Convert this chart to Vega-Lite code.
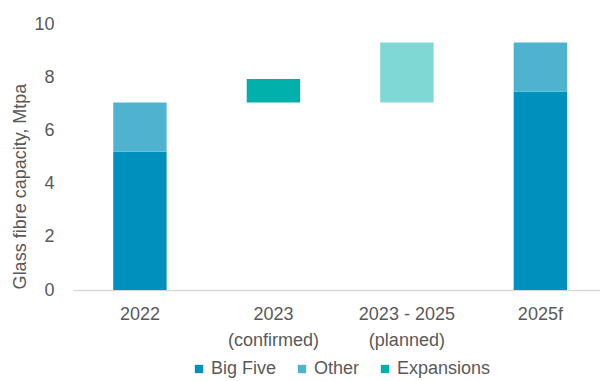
{
  "$schema": "https://vega.github.io/schema/vega-lite/v6.json",
  "autosize": "none",
  "width": 527,
  "height": 266,
  "padding": {"left": 73, "top": 24, "right": 0, "bottom": 91},
  "background": "white",
  "config": {"view": {"stroke": null}, "font": "Liberation Sans"},
  "data": {"values": [
    {"cat": "2022", "series": "Big Five", "y0": 0, "y1": 5.2},
    {"cat": "2022", "series": "Other", "y0": 5.2, "y1": 7.05},
    {"cat": "2023\n(confirmed)", "series": "Expansions", "y0": 7.05, "y1": 7.93},
    {"cat": "2023 - 2025\n(planned)", "series": "Planned", "y0": 7.05, "y1": 9.3},
    {"cat": "2025f", "series": "Big Five", "y0": 0, "y1": 7.45},
    {"cat": "2025f", "series": "Other", "y0": 7.45, "y1": 9.3}
  ]},
  "mark": {"type": "bar"},
  "encoding": {
    "x": {"field": "cat", "type": "nominal", "sort": null,
      "scale": {"paddingInner": 0.6, "paddingOuter": 0.274, "align": 0.55},
      "axis": {"title": null, "labelAngle": 0, "ticks": false, "domainColor": "#d9d9d9", "domainWidth": 1.5,
        "labelExpr": "split(datum.label, '\\n')", "labelFontSize": 18, "labelColor": "#595959",
        "labelPadding": 15, "labelLineHeight": 26}},
    "y": {"field": "y0", "type": "quantitative", "scale": {"domain": [0, 10]},
      "axis": {"title": "Glass fibre capacity, Mtpa", "grid": false, "domain": false, "ticks": false,
        "values": [0, 2, 4, 6, 8, 10], "labelFontSize": 18, "labelColor": "#595959", "labelPadding": 19,
        "titleFontSize": 18, "titleFontWeight": "normal", "titleColor": "#595959", "titlePadding": 4, "titleY": 162}},
    "y2": {"field": "y1"},
    "color": {"field": "series", "type": "nominal",
      "scale": {"domain": ["Big Five", "Other", "Expansions", "Planned"], "range": ["#0090bd", "#4fb3d0", "#00b0aa", "#80d8d4"]},
      "legend": {"orient": "none", "legendX": 117, "legendY": 336, "direction": "horizontal", "title": null, "values": ["Big Five", "Other", "Expansions"],
        "symbolType": "square", "symbolSize": 70, "symbolStrokeWidth": 0, "labelFontSize": 18, "labelColor": "#595959",
        "columnPadding": 16, "labelOffset": 3}}
  }
}
